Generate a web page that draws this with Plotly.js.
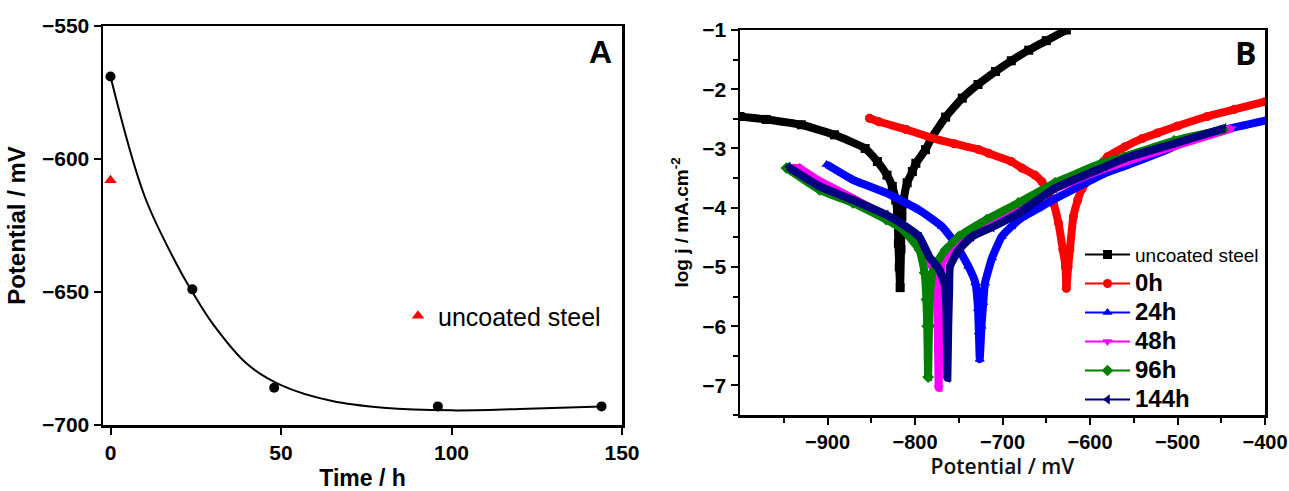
<!DOCTYPE html>
<html>
<head>
<meta charset="utf-8">
<script src="https://cdn.plot.ly/plotly-3.0.1.min.js"></script>
<style>html,body{margin:0;padding:0;background:#fff;}#chart{width:1289px;height:491px;}</style>
</head>
<body>
<div id="chart"></div>
<script>
// ---------- Panel A: open circuit potential vs time ----------
const timeH = [0, 24, 48, 96, 144];
const potentialMV = [-569, -649, -686, -693, -693];
const uncoatedTime = [0];
const uncoatedPotential = [-608];
// smooth fitted curve
const fitTime = [0, 10, 20, 24, 30, 40, 50, 65, 80, 100, 120, 144];
const fitPotential = [-569, -614, -641, -650, -662, -677, -685, -691, -693.5, -694.5, -694, -693];

// ---------- Panel B: Tafel curves ----------
const uncoatedX = [-1000, -970, -930, -892, -857, -843, -832, -826, -822, -820, -819, -818, -817,
  -816, -815, -813, -809, -803, -799, -788, -781, -765, -746, -728, -708, -690, -670, -650, -627];
const uncoatedY = [-2.46, -2.51, -2.60, -2.77, -3.00, -3.22, -3.45, -3.64, -3.87, -4.10, -4.60, -5.00, -5.35,
  -4.70, -4.15, -3.87, -3.58, -3.39, -3.25, -3.02, -2.82, -2.47, -2.15, -1.92, -1.70, -1.52, -1.34, -1.18, -1.00];

const h0X = [-852, -841, -810, -781, -755, -727, -716, -690, -678, -663, -655, -642, -636, -631, -628, -627,
  -625, -623, -619, -614, -609, -602, -590, -580, -560, -540, -523, -500, -466, -435, -400];
const h0Y = [-2.49, -2.55, -2.68, -2.82, -2.92, -3.02, -3.08, -3.22, -3.33, -3.45, -3.56, -3.92, -4.26, -4.71, -5.00, -5.36,
  -5.00, -4.71, -4.15, -3.87, -3.68, -3.53, -3.32, -3.14, -2.97, -2.83, -2.74, -2.62, -2.46, -2.34, -2.21];

const h24X = [-901, -871, -833, -795, -769, -754, -739, -731, -728, -727, -726,
  -724, -722, -720, -712, -701, -690, -678, -660, -640, -610, -583, -561, -520, -485, -445, -400];
const h24Y = [-3.27, -3.53, -3.75, -4.04, -4.32, -4.60, -4.99, -5.27, -5.70, -6.10, -6.56,
  -6.00, -5.60, -5.27, -4.85, -4.49, -4.32, -4.17, -4.02, -3.85, -3.62, -3.42, -3.30, -3.07, -2.85, -2.68, -2.53];

const h48X = [-935, -909, -871, -833, -814, -795, -784, -777, -775, -774, -773,
  -772, -771, -769, -760, -750, -716, -678, -640, -583, -561, -504, -438];
const h48Y = [-3.30, -3.55, -3.84, -4.15, -4.33, -4.60, -4.90, -5.10, -5.50, -6.00, -7.04,
  -6.00, -5.40, -4.93, -4.75, -4.60, -4.25, -3.97, -3.68, -3.34, -3.23, -2.96, -2.66];

const h96X = [-947, -909, -871, -833, -814, -795, -789, -787, -786, -785,
  -784, -783, -780, -773, -765, -750, -718, -682, -640, -587, -561, -504, -447];
const h96Y = [-3.33, -3.70, -3.92, -4.20, -4.37, -4.71, -5.10, -5.55, -6.00, -6.86,
  -6.00, -5.50, -5.10, -4.88, -4.71, -4.49, -4.20, -3.92, -3.58, -3.25, -3.14, -2.87, -2.68];

const h144X = [-945, -909, -871, -833, -814, -795, -784, -772, -766, -764, -763,
  -762, -761, -760, -750, -735, -712, -680, -640, -583, -561, -504, -447];
const h144Y = [-3.31, -3.64, -3.87, -4.12, -4.28, -4.49, -4.82, -5.05, -5.30, -5.80, -6.87,
  -6.00, -5.40, -4.99, -4.71, -4.49, -4.33, -4.08, -3.67, -3.31, -3.17, -2.92, -2.66];

const seriesNames = ['uncoated steel', '0h', '24h', '48h', '96h', '144h'];
const seriesX = [uncoatedX, h0X, h24X, h48X, h96X, h144X];
const seriesY = [uncoatedY, h0Y, h24Y, h48Y, h96Y, h144Y];
const seriesColors = ['#000000', '#ff0000', '#0000ff', '#ff00ff', '#008000', '#000080'];
const seriesSymbols = ['square', 'circle', 'triangle-up', 'triangle-down', 'diamond', 'triangle-left'];

const FONT = 'Liberation Sans, Arial, sans-serif';
const W = 1289, H = 491;

const traces = [];
// Panel A
traces.push({x: fitTime, y: fitPotential, type: 'scatter', mode: 'lines',
  line: {color: '#000', width: 2, shape: 'spline', smoothing: 1}, showlegend: false, xaxis: 'x', yaxis: 'y', hoverinfo: 'skip'});
traces.push({x: timeH, y: potentialMV, type: 'scatter', mode: 'markers',
  marker: {color: '#000', size: 10, symbol: 'circle'}, showlegend: false, xaxis: 'x', yaxis: 'y'});
traces.push({x: uncoatedTime, y: uncoatedPotential, type: 'scatter', mode: 'markers', name: 'uncoated steel',
  marker: {color: '#ff0000', size: 11, symbol: 'triangle-up'}, legend: 'legend2', xaxis: 'x', yaxis: 'y'});

// Panel B: thin legend traces underneath
for (let i = 0; i < seriesNames.length; i++) {
  const nm = i === 0 ? '<span style="font-size:19px">' + seriesNames[i] + '</span>'
                     : '<span style="font-size:24px"><b>' + seriesNames[i] + '</b></span>';
  traces.push({x: seriesX[i], y: seriesY[i], type: 'scatter', mode: 'lines+markers', name: nm,
    line: {color: seriesColors[i], width: 2}, marker: {color: seriesColors[i], size: 9, symbol: seriesSymbols[i]},
    xaxis: 'x2', yaxis: 'y2', legend: 'legend'});
}
// Panel B: thick dense-marker look
for (let i = 0; i < seriesNames.length; i++) {
  traces.push({x: seriesX[i], y: seriesY[i], type: 'scatter', mode: 'lines+markers', showlegend: false,
    line: {color: seriesColors[i], width: 8, shape: 'spline', smoothing: 0.4},
    marker: {color: seriesColors[i], size: 8, symbol: seriesSymbols[i]},
    xaxis: 'x2', yaxis: 'y2'});
}

const axBase = {showgrid: false, zeroline: false, showline: true, linecolor: '#000', linewidth: 2.5, mirror: true,
  ticks: 'outside', ticklen: 7, tickwidth: 2, tickcolor: '#000', automargin: false,
  tickfont: {family: FONT, size: 21, color: '#000', weight: 'bold'}};

const layout = {
  width: W, height: H, margin: {l: 0, r: 0, t: 0, b: 0},
  paper_bgcolor: '#fff', plot_bgcolor: '#fff',
  xaxis: Object.assign({}, axBase, {domain: [103 / W, 622 / W], anchor: 'y', range: [-2.2, 150],
    tickmode: 'array', tickvals: [0, 50, 100, 150],
    title: {text: 'Time / h', standoff: 8, font: {family: FONT, size: 23, color: '#000', weight: 'bold'}}}),
  yaxis: Object.assign({}, axBase, {domain: [1 - 425 / H, 1 - 26 / H], anchor: 'x', range: [-700, -550],
    tickmode: 'array', tickvals: [-700, -650, -600, -550],
    title: {text: 'Potential / mV', standoff: 10, font: {family: FONT, size: 24, color: '#000', weight: 'bold'}}}),
  xaxis2: Object.assign({}, axBase, {domain: [740 / W, 1265 / W], anchor: 'y2', range: [-1000, -400],
    tickmode: 'array', tickvals: [-900, -800, -700, -600, -500, -400], ticklabeloverflow: 'allow',
    tickfont: {family: FONT, size: 20, color: '#000', weight: 'bold'},
    minor: {tickmode: 'array', tickvals: [-950, -850, -750, -650, -550, -450], ticks: 'outside', ticklen: 5, tickwidth: 2, tickcolor: '#000'},
    title: {text: 'Potential / mV', standoff: 8, font: {family: 'Open Sans, sans-serif', size: 21, color: '#111', weight: 600}}}),
  yaxis2: Object.assign({}, axBase, {domain: [1 - 415 / H, 1 - 30 / H], anchor: 'x2', range: [-7.5, -1],
    tickmode: 'array', tickvals: [-7, -6, -5, -4, -3, -2, -1],
    minor: {tickmode: 'array', tickvals: [-7.5, -6.5, -5.5, -4.5, -3.5, -2.5, -1.5], ticks: 'outside', ticklen: 5, tickwidth: 2, tickcolor: '#000'},
    title: {text: 'log j / mA.cm<sup>-2</sup>', standoff: 9, font: {family: FONT, size: 19, color: '#000', weight: 'bold'}}}),
  legend: {x: 1080 / W, y: 1 - 235 / H, xanchor: 'left', yanchor: 'top', bgcolor: 'rgba(0,0,0,0)',
    font: {family: FONT, size: 20, color: '#000'}, tracegroupgap: 0, itemwidth: 45},
  legend2: {x: 398 / W, y: 1 - 293 / H, xanchor: 'left', yanchor: 'top', bgcolor: 'rgba(0,0,0,0)',
    font: {family: FONT, size: 25, color: '#000'}},
  annotations: [
    {text: '<b>A</b>', x: 600 / W, y: 1 - 52 / H, xref: 'paper', yref: 'paper', xanchor: 'center', yanchor: 'middle', showarrow: false,
      font: {family: FONT, size: 32, color: '#000'}},
    {text: '<b>B</b>', x: 1246 / W, y: 1 - 52 / H, xref: 'paper', yref: 'paper', xanchor: 'center', yanchor: 'middle', showarrow: false,
      font: {family: 'Open Sans, sans-serif', size: 32, color: '#000'}}
  ]
};

Plotly.newPlot('chart', traces, layout, {displayModeBar: false, staticPlot: true});
</script>
</body>
</html>
